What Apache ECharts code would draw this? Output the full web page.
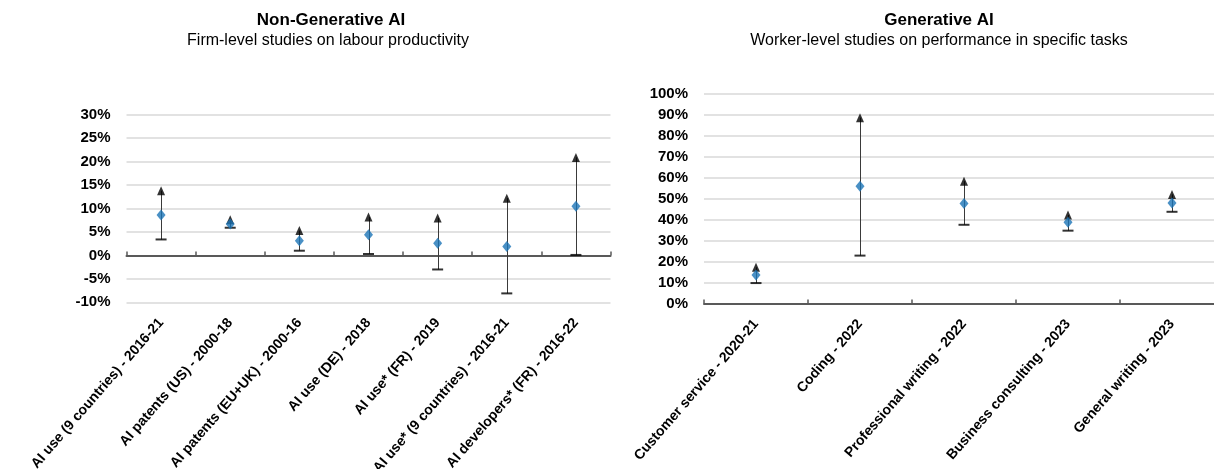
<!DOCTYPE html>
<html>
<head>
<meta charset="utf-8">
<script src="https://cdn.jsdelivr.net/npm/echarts@6/dist/echarts.min.js"></script>
<style>
  html, body { margin: 0; padding: 0; background: #ffffff; }
  #chart { width: 1214px; height: 469px; }
</style>
</head>
<body>
<div id="chart"></div>
<script>
// ---- Data (values in %) ----
const leftCategories = [
  'AI use (9 countries) - 2016-21',
  'AI patents (US) - 2000-18',
  'AI patents (EU+UK) - 2000-16',
  'AI use (DE) - 2018',
  'AI use* (FR) - 2019',
  'AI use* (9 countries) - 2016-21',
  'AI developers* (FR) - 2016-22'
];
const leftMid  = [8.6, 6.7, 3.1, 4.4, 2.6, 1.9, 10.5];
const leftHigh = [13.8, 7.6, 5.3, 8.2, 8.0, 12.2, 20.9];
const leftLow  = [3.4, 5.9, 1.0, 0.3, -3.0, -8.1, 0.1];

const rightCategories = [
  'Customer service - 2020-21',
  'Coding - 2022',
  'Professional writing - 2022',
  'Business consulting - 2023',
  'General writing - 2023'
];
const rightMid  = [13.6, 56.0, 47.8, 38.8, 48.0];
const rightHigh = [17.3, 88.7, 58.4, 42.3, 52.1];
const rightLow  = [9.8, 22.9, 37.6, 34.8, 43.8];

const leftTitle = 'Non-Generative AI';
const leftSubtitle = 'Firm-level studies on labour productivity';
const rightTitle = 'Generative AI';
const rightSubtitle = 'Worker-level studies on performance in specific tasks';

// ---- Styles ----
const FONT = '"Liberation Sans", Arial, sans-serif';
const BLUE = '#1b74b6';
const GRID_COLOR = '#d9d9d9';
const AXIS_COLOR = '#595959';

const chart = echarts.init(document.getElementById('chart'), null, { renderer: 'canvas' });

function rangeData(low, high) {
  return low.map((v, i) => [i, v, high[i]]);
}
function pts(arr) { return arr.map((v, i) => [i, v]); }

function errorLine(xAxisIndex, yAxisIndex, low, high) {
  return {
    type: 'custom',
    xAxisIndex, yAxisIndex,
    silent: true,
    z: 2,
    data: rangeData(low, high),
    encode: { x: 0, y: [1, 2] },
    renderItem: function (params, api) {
      const p1 = api.coord([api.value(0), api.value(1)]);
      const p2 = api.coord([api.value(0), api.value(2)]);
      return {
        type: 'line',
        shape: { x1: Math.round(p1[0]) + 0.5, y1: p1[1], x2: Math.round(p2[0]) + 0.5, y2: p2[1] },
        style: { stroke: '#3a3a3a', lineWidth: 1 }
      };
    }
  };
}
function lowCaps(xAxisIndex, yAxisIndex, low) {
  return {
    type: 'scatter', xAxisIndex, yAxisIndex, silent: true, z: 3,
    symbol: 'rect', symbolSize: [11, 2],
    itemStyle: { color: '#000000' },
    data: pts(low)
  };
}
function highTri(xAxisIndex, yAxisIndex, high) {
  return {
    type: 'scatter', xAxisIndex, yAxisIndex, silent: true, z: 4,
    symbol: 'triangle', symbolSize: [8, 9],
    itemStyle: { color: '#000000' },
    data: pts(high)
  };
}
function midDiamond(xAxisIndex, yAxisIndex, mid) {
  return {
    type: 'scatter', xAxisIndex, yAxisIndex, silent: true, z: 5,
    symbol: 'diamond', symbolSize: [9, 11],
    itemStyle: { color: BLUE },
    data: pts(mid)
  };
}

const yLabel = { color: '#000', fontFamily: FONT, fontWeight: 'bold', fontSize: 15, margin: 16, formatter: '{value}%' };
const xLabel = { color: '#000', fontFamily: FONT, fontWeight: 'bold', fontSize: 14, rotate: 49, margin: 18, interval: 0 };

const option = {
  backgroundColor: '#ffffff',
  animation: false,
  graphic: [
    { type: 'text', x: 331, y: 20, style: { text: leftTitle, font: 'bold 17px ' + FONT, fill: '#000', align: 'center', verticalAlign: 'middle' } },
    { type: 'text', x: 328, y: 41, style: { text: leftSubtitle, font: '16px ' + FONT, fill: '#000', align: 'center', verticalAlign: 'middle' } },
    { type: 'text', x: 939, y: 20, style: { text: rightTitle, font: 'bold 17px ' + FONT, fill: '#000', align: 'center', verticalAlign: 'middle' } },
    { type: 'text', x: 939, y: 41, style: { text: rightSubtitle, font: '16px ' + FONT, fill: '#000', align: 'center', verticalAlign: 'middle' } }
  ],
  grid: [
    { left: 126.5, width: 484, top: 114.7, height: 187.6, containLabel: false, outerBoundsMode: 'none' },
    { left: 704, width: 520, top: 94, height: 209.6, containLabel: false, outerBoundsMode: 'none' }
  ],
  xAxis: [
    { // labels at the bottom of left chart
      type: 'category', gridIndex: 0, data: leftCategories, position: 'bottom',
      axisLine: { show: false, onZero: false }, axisTick: { show: false },
      axisLabel: xLabel, splitLine: { show: false }
    },
    { // zero line with ticks for left chart
      type: 'category', gridIndex: 0, data: leftCategories, position: 'top',
      axisLine: { show: true, onZero: true, lineStyle: { color: AXIS_COLOR, width: 2 } },
      axisTick: { show: true, inside: false, length: 4, interval: 0, lineStyle: { color: AXIS_COLOR, width: 1.5 } },
      axisLabel: { show: false, interval: 0 }, splitLine: { show: false }
    },
    {
      type: 'category', gridIndex: 1, data: rightCategories, position: 'bottom',
      axisLine: { show: true, onZero: false, lineStyle: { color: AXIS_COLOR, width: 2 } },
      axisTick: { show: true, inside: true, length: 4, interval: 0, lineStyle: { color: AXIS_COLOR, width: 1.5 } },
      axisLabel: xLabel, splitLine: { show: false }
    }
  ],
  yAxis: [
    {
      type: 'value', gridIndex: 0, min: -10, max: 30, interval: 5,
      axisLine: { show: false }, axisTick: { show: false },
      axisLabel: yLabel,
      splitLine: { show: true, lineStyle: { color: GRID_COLOR, width: 1.5 } }
    },
    {
      type: 'value', gridIndex: 1, min: 0, max: 100, interval: 10,
      axisLine: { show: false }, axisTick: { show: false },
      axisLabel: yLabel,
      splitLine: { show: true, lineStyle: { color: GRID_COLOR, width: 1.5 } }
    }
  ],
  series: [
    errorLine(0, 0, leftLow, leftHigh),
    lowCaps(0, 0, leftLow),
    highTri(0, 0, leftHigh),
    midDiamond(0, 0, leftMid),
    errorLine(2, 1, rightLow, rightHigh),
    lowCaps(2, 1, rightLow),
    highTri(2, 1, rightHigh),
    midDiamond(2, 1, rightMid)
  ]
};

chart.setOption(option);
</script>
</body>
</html>
